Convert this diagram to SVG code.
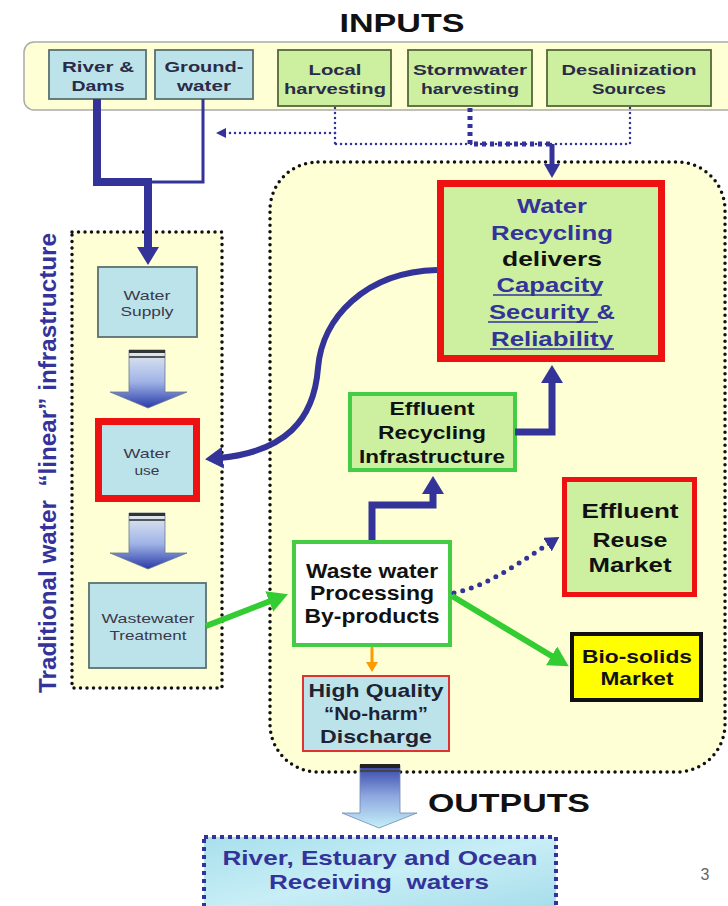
<svg xmlns="http://www.w3.org/2000/svg" width="728" height="906" viewBox="0 0 728 906">
<defs>
<style>
text{font-family:"Liberation Sans",Arial,sans-serif;}
.b{font-weight:bold;}
.c{text-anchor:middle;}
.lbl{font-size:14.5px;fill:#2b2b48;}
.reg{font-size:13px;fill:#3a3a4a;}
.navy{fill:#333399;}
.blk{fill:#111;}
.blue{fill:#bde3ea;stroke:#5a7070;stroke-width:1.8;}
.green{fill:#ccf0a0;stroke:#56683a;stroke-width:1.8;}
.panel{fill:#ffffd6;}
.dotK{fill:none;stroke:#111;stroke-width:3.5;stroke-dasharray:0 6.5;stroke-linecap:round;}
.thick{fill:none;stroke:#333399;stroke-width:8;}
.dotN{fill:none;stroke:#333399;stroke-width:2.5;stroke-dasharray:0 5;stroke-linecap:round;}
.dotNB{fill:none;stroke:#333399;stroke-width:5;stroke-dasharray:4 4;}
.gline{fill:none;stroke:#33cc33;stroke-width:6;}
.ul{stroke:#333399;stroke-width:1.6;}
</style>
<marker id="ahN" viewBox="0 0 18 22" markerWidth="18" markerHeight="22" refX="4" refY="11" orient="auto" markerUnits="userSpaceOnUse"><path d="M0,0 L18,11 L0,22 z" fill="#333399"/></marker>
<marker id="ahNs" viewBox="0 0 14 16" markerWidth="14" markerHeight="16" refX="3" refY="8" orient="auto" markerUnits="userSpaceOnUse"><path d="M0,0 L14,8 L0,16 z" fill="#333399"/></marker>
<marker id="ahNxs" viewBox="0 0 10 10" markerWidth="10" markerHeight="10" refX="2" refY="5" orient="auto" markerUnits="userSpaceOnUse"><path d="M0,0 L10,5 L0,10 z" fill="#333399"/></marker>
<marker id="ahG" viewBox="0 0 20 22" markerWidth="20" markerHeight="22" refX="4" refY="11" orient="auto" markerUnits="userSpaceOnUse"><path d="M0,0 L20,11 L0,22 z" fill="#33cc33"/></marker>
<marker id="ahO" viewBox="0 0 10 12" markerWidth="10" markerHeight="12" refX="2" refY="6" orient="auto" markerUnits="userSpaceOnUse"><path d="M0,0 L10,6 L0,12 z" fill="#ff9900"/></marker>
<linearGradient id="gDown" x1="0" y1="0" x2="0" y2="1">
<stop offset="0" stop-color="#e4ebf2"/><stop offset="0.55" stop-color="#9fb3e6"/><stop offset="1" stop-color="#2a3aa8"/>
</linearGradient>
<linearGradient id="gOut" x1="0" y1="0" x2="0" y2="1">
<stop offset="0" stop-color="#3444a8"/><stop offset="0.5" stop-color="#8fa8e0"/><stop offset="1" stop-color="#c4f0f6"/>
</linearGradient>
<linearGradient id="gRecv" x1="0" y1="0" x2="1" y2="1">
<stop offset="0" stop-color="#a8e0ec"/><stop offset="0.5" stop-color="#c8eef6"/><stop offset="1" stop-color="#a4dcea"/>
</linearGradient>
</defs>

<rect x="0" y="0" width="728" height="906" fill="#ffffff"/>

<!-- Titles -->
<text id="title-inputs" class="b c" x="402" y="32" font-size="25" textLength="125" lengthAdjust="spacingAndGlyphs" fill="#111">INPUTS</text>

<!-- Inputs band -->
<g id="inputs-band">
<rect x="24" y="42" width="720" height="68" rx="10" fill="#ffffd5" stroke="#aaaaaa" stroke-width="1.5"/>
</g>

<!-- Big recycling region -->
<g id="recycling-region">
<rect x="270" y="162" width="455" height="610" rx="48" class="panel"/>
<rect x="270" y="162" width="455" height="610" rx="48" class="dotK"/>
</g>

<!-- Traditional infrastructure region -->
<g id="traditional-region">
<rect x="72" y="232" width="150" height="456" class="panel"/>
<rect x="72" y="232" width="150" height="456" class="dotK"/>
<text class="b c navy" transform="translate(56,463) rotate(-90)" font-size="24" textLength="460" lengthAdjust="spacingAndGlyphs" xml:space="preserve">Traditional water  “linear” infrastructure</text>
</g>

<!-- Input nodes -->
<g id="river-dams">
<rect x="49" y="50" width="97" height="49" class="blue"/>
<text class="b c lbl" x="98" y="72" textLength="72" lengthAdjust="spacingAndGlyphs">River &amp;</text>
<text class="b c lbl" x="98" y="91" textLength="53" lengthAdjust="spacingAndGlyphs">Dams</text>
</g>
<g id="groundwater">
<rect x="155" y="50" width="98" height="49" class="blue"/>
<text class="b c lbl" x="204" y="72" textLength="79" lengthAdjust="spacingAndGlyphs">Ground-</text>
<text class="b c lbl" x="204" y="91" textLength="54" lengthAdjust="spacingAndGlyphs">water</text>
</g>
<g id="local-harvesting">
<rect x="278" y="50" width="113" height="56" class="green"/>
<text class="b c lbl" x="335" y="75" textLength="53" lengthAdjust="spacingAndGlyphs">Local</text>
<text class="b c lbl" x="335" y="94" textLength="102" lengthAdjust="spacingAndGlyphs">harvesting</text>
</g>
<g id="stormwater-harvesting">
<rect x="408" y="50" width="124" height="56" class="green"/>
<text class="b c lbl" x="470" y="75" textLength="114" lengthAdjust="spacingAndGlyphs">Stormwater</text>
<text class="b c lbl" x="470" y="94" textLength="98" lengthAdjust="spacingAndGlyphs">harvesting</text>
</g>
<g id="desalinization-sources">
<rect x="547" y="50" width="164" height="56" class="green"/>
<text class="b c lbl" x="629" y="75" textLength="135" lengthAdjust="spacingAndGlyphs">Desalinization</text>
<text class="b c lbl" x="629" y="94" textLength="74" lengthAdjust="spacingAndGlyphs">Sources</text>
</g>

<!-- Traditional nodes -->
<g id="water-supply">
<rect x="98" y="267" width="99" height="70" class="blue" stroke="#555"/>
<text class="c reg" x="147" y="300" textLength="47" lengthAdjust="spacingAndGlyphs">Water</text>
<text class="c reg" x="147" y="316" textLength="53" lengthAdjust="spacingAndGlyphs">Supply</text>
</g>
<g id="water-use">
<rect x="98.5" y="421.5" width="98" height="77" fill="#bde3ea" stroke="#ee1111" stroke-width="7"/>
<text class="c reg" x="147" y="458" textLength="47" lengthAdjust="spacingAndGlyphs">Water</text>
<text class="c reg" x="147" y="475" textLength="25" lengthAdjust="spacingAndGlyphs">use</text>
</g>
<g id="wastewater-treatment">
<rect x="89" y="583" width="117" height="85" class="blue" stroke="#555"/>
<text class="c reg" x="148" y="623" textLength="93" lengthAdjust="spacingAndGlyphs">Wastewater</text>
<text class="c reg" x="148" y="640" textLength="77" lengthAdjust="spacingAndGlyphs">Treatment</text>
</g>

<!-- Block arrows -->
<g id="block-arrow-1">
<path d="M129,350 H165 V392 H187 L148,408 L110,392 H129 Z" fill="url(#gDown)" stroke="#6a7890" stroke-width="0.8"/>
<rect x="129" y="350" width="36" height="3" fill="#333"/>
<rect x="129" y="356" width="36" height="2" fill="#555"/>
</g>
<g id="block-arrow-2">
<path d="M129,513 H165 V553 H187 L148,569 L110,553 H129 Z" fill="url(#gDown)" stroke="#6a7890" stroke-width="0.8"/>
<rect x="129" y="513" width="36" height="3" fill="#333"/>
<rect x="129" y="519" width="36" height="2" fill="#555"/>
</g>
<g id="block-arrow-out">
<path d="M360,765 H400 V813 H417 L379,828 L342,813 H360 Z" fill="url(#gOut)" stroke="#7088b0" stroke-width="0.8"/>
<rect x="360" y="764" width="40" height="4" fill="#222"/>
<rect x="360" y="770" width="40" height="2" fill="#444"/>
</g>

<!-- Recycling nodes -->
<g id="water-recycling">
<rect x="440.5" y="183.5" width="221" height="175" fill="#ccf0a0" stroke="#ee1111" stroke-width="7"/>
<text class="b c navy" x="552" y="213" font-size="21" textLength="70" lengthAdjust="spacingAndGlyphs">Water</text>
<text class="b c navy" x="552" y="240" font-size="21" textLength="122" lengthAdjust="spacingAndGlyphs">Recycling</text>
<text class="b c blk" x="552" y="266" font-size="21" textLength="100" lengthAdjust="spacingAndGlyphs">delivers</text>
<text class="b c navy" x="550" y="292" font-size="21" textLength="107" lengthAdjust="spacingAndGlyphs">Capacity</text>
<text class="b c navy" x="552" y="319" font-size="21" textLength="126" lengthAdjust="spacingAndGlyphs">Security &amp;</text>
<text class="b c navy" x="552" y="346" font-size="21" textLength="122" lengthAdjust="spacingAndGlyphs">Reliability</text>
<line class="ul" x1="493" y1="295" x2="602" y2="295"/>
<line class="ul" x1="488" y1="322" x2="598" y2="322"/>
<line class="ul" x1="490" y1="349" x2="614" y2="349"/>
</g>
<g id="effluent-recycling-infrastructure">
<rect x="350" y="394" width="165" height="76" fill="#ccf0a0" stroke="#44cc44" stroke-width="4"/>
<text class="b c blk" x="432" y="415" font-size="18" textLength="85" lengthAdjust="spacingAndGlyphs">Effluent</text>
<text class="b c blk" x="432" y="439" font-size="18" textLength="108" lengthAdjust="spacingAndGlyphs">Recycling</text>
<text class="b c blk" x="432" y="463" font-size="18" textLength="146" lengthAdjust="spacingAndGlyphs">Infrastructure</text>
</g>
<g id="effluent-reuse-market">
<rect x="564.5" y="479.5" width="130" height="115" fill="#ccf0a0" stroke="#ee1111" stroke-width="5"/>
<text class="b c blk" x="630" y="518" font-size="20" textLength="97" lengthAdjust="spacingAndGlyphs">Effluent</text>
<text class="b c blk" x="630" y="547" font-size="20" textLength="75" lengthAdjust="spacingAndGlyphs">Reuse</text>
<text class="b c blk" x="630" y="572" font-size="20" textLength="83" lengthAdjust="spacingAndGlyphs">Market</text>
</g>
<g id="waste-water-processing">
<rect x="294" y="542" width="156" height="103" fill="#ffffff" stroke="#44cc44" stroke-width="4"/>
<text class="b c blk" x="372" y="578" font-size="20" textLength="132" lengthAdjust="spacingAndGlyphs">Waste water</text>
<text class="b c blk" x="372" y="600" font-size="20" textLength="124" lengthAdjust="spacingAndGlyphs">Processing</text>
<text class="b c blk" x="372" y="623" font-size="20" textLength="135" lengthAdjust="spacingAndGlyphs">By-products</text>
</g>
<g id="bio-solids-market">
<rect x="572" y="634" width="129" height="66" fill="#ffff00" stroke="#111" stroke-width="4"/>
<text class="b c blk" x="637" y="663" font-size="19" textLength="110" lengthAdjust="spacingAndGlyphs">Bio-solids</text>
<text class="b c blk" x="637" y="685" font-size="19" textLength="73" lengthAdjust="spacingAndGlyphs">Market</text>
</g>
<g id="high-quality-discharge">
<rect x="303" y="676" width="146" height="75" fill="#bde3ea" stroke="#dd3333" stroke-width="2"/>
<text class="b c" x="376" y="697" font-size="19" fill="#1e2233" textLength="135" lengthAdjust="spacingAndGlyphs">High Quality</text>
<text class="b c" x="376" y="720" font-size="19" fill="#1e2233" textLength="104" lengthAdjust="spacingAndGlyphs">“No-harm”</text>
<text class="b c" x="376" y="743" font-size="19" fill="#1e2233" textLength="112" lengthAdjust="spacingAndGlyphs">Discharge</text>
</g>

<!-- Outputs -->
<text id="title-outputs" class="b" x="428" y="812" font-size="26" textLength="162" lengthAdjust="spacingAndGlyphs" fill="#111">OUTPUTS</text>
<g id="receiving-waters">
<rect x="204" y="837" width="352" height="75" fill="url(#gRecv)"/>
<rect x="204" y="837" width="352" height="75" fill="none" stroke="#333399" stroke-width="4" stroke-dasharray="4 4"/>
<text class="b c navy" x="380" y="865" font-size="21" textLength="315" lengthAdjust="spacingAndGlyphs">River, Estuary and Ocean</text>
<text class="b c navy" x="379" y="889" font-size="21" textLength="220" lengthAdjust="spacingAndGlyphs" xml:space="preserve">Receiving  waters</text>
</g>
<text id="page-number" class="c" x="705" y="880" font-size="16" fill="#666">3</text>

<!-- Connectors -->
<g id="connectors">
<path class="thick" d="M203,99 V182 H97" style="stroke-width:3"/>
<path class="thick" d="M97,99 V182 H148 V251" marker-end="url(#ahN)"/>
<path class="dotN" d="M335,108 V144"/>
<path class="dotN" d="M335,133 H224" marker-end="url(#ahNxs)"/>
<path class="dotN" d="M630,108 V144 H335"/>
<path class="dotNB" d="M470,108 V144 H552"/>
<path class="dotNB" d="M552,144 V167" marker-end="url(#ahNs)" style="stroke-dasharray:none"/>
<path class="thick" d="M437,270 C365,272 322,318 318,368 C314,420 285,452 219,458" style="stroke-width:6" marker-end="url(#ahN)"/>
<path class="thick" d="M515,432 H552 V379" style="stroke-width:7" marker-end="url(#ahN)"/>
<path class="thick" d="M372,540 V505 H433 V490" style="stroke-width:7" marker-end="url(#ahN)"/>
<path d="M454,593 C490,585 520,562 550,543" fill="none" stroke="#333399" stroke-width="5" stroke-dasharray="0 9" stroke-linecap="round" marker-end="url(#ahNs)"/>
<path class="gline" d="M206,626 L273,600" marker-end="url(#ahG)"/>
<path class="gline" d="M452,596 L555,658" marker-end="url(#ahG)"/>
<path d="M372,647 V664" fill="none" stroke="#ff9900" stroke-width="3" marker-end="url(#ahO)"/>
</g>
</svg>
